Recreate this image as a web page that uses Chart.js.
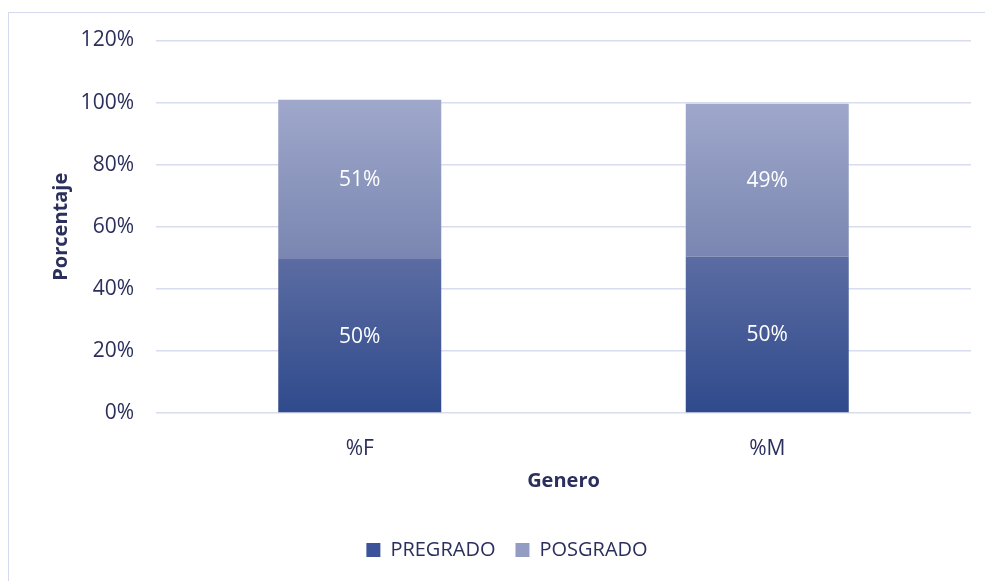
<!DOCTYPE html>
<html>
<head>
<meta charset="utf-8">
<script src="https://cdn.jsdelivr.net/npm/chart.js@4.4.0/dist/chart.umd.min.js"></script>
<style>
  html, body { margin: 0; padding: 0; background: #fff; overflow: hidden; }
  #wrap { position: absolute; left: 8px; top: 12px; width: 997px; height: 575px; border: 1.5px solid #d5d9ee; box-sizing: border-box; }
  #myChart { position: absolute; left: 0; top: 0; }
</style>
</head>
<body>
<div id="wrap"><canvas id="myChart" width="997" height="575"></canvas></div>
<script>
// categorias y series
var generos = ['%F', '%M'];
var pregrado = [49.6, 50.4];
var posgrado = [51.3, 49.2];
var yTicks = [0, 20, 40, 60, 80, 100, 120];

var textColor = '#2b2f5c';
var gridColor = '#d9dcee';
var fuente = "'Open Sans', sans-serif";

// gradiente vertical por segmento (como en Excel)
function gradiente(ctx, top, bottom) {
    var chart = ctx.chart;
    if (!chart.chartArea || !chart.scales.y) return top;
    var i = ctx.dataIndex;
    var base = ctx.datasetIndex === 0 ? 0 : pregrado[i];
    var val = ctx.datasetIndex === 0 ? pregrado[i] : pregrado[i] + posgrado[i];
    var y0 = chart.scales.y.getPixelForValue(val);
    var y1 = chart.scales.y.getPixelForValue(base);
    var g = chart.ctx.createLinearGradient(0, y0, 0, y1);
    g.addColorStop(0, top);
    g.addColorStop(1, bottom);
    return g;
}

// etiquetas blancas dentro de las barras
var etiquetas = {
    id: 'etiquetas',
    afterLayout: function (chart) {
        // la leyenda en el original esta centrada en todo el ancho
        if (chart.legend) { chart.legend.left += 17; chart.legend.right += 17; }
    },
    afterDatasetsDraw: function (chart) {
        var ctx = chart.ctx;
        ctx.save();
        ctx.fillStyle = '#ffffff';
        ctx.font = '21px ' + fuente;
        ctx.textAlign = 'center';
        ctx.textBaseline = 'middle';
        chart.data.datasets.forEach(function (ds, di) {
            chart.getDatasetMeta(di).data.forEach(function (bar, i) {
                var mid = (bar.y + bar.base) / 2;
                ctx.fillText(Math.round(ds.data[i]) + '%', bar.x, mid + 1);
            });
        });
        ctx.restore();
    }
};

new Chart(document.getElementById('myChart'), {
    type: 'bar',
    data: {
        labels: generos,
        datasets: [
            {
                label: 'PREGRADO',
                data: pregrado,
                backgroundColor: function (c) { return gradiente(c, '#5b6ca2', '#2f4a8c'); },
                borderWidth: 0,
                categoryPercentage: 0.8,
                barPercentage: 0.5
            },
            {
                label: 'POSGRADO',
                data: posgrado,
                backgroundColor: function (c) { return gradiente(c, '#9fa8cb', '#7a86b1'); },
                borderWidth: 0,
                categoryPercentage: 0.8,
                barPercentage: 0.5
            }
        ]
    },
    options: {
        responsive: false,
        animation: false,
        layout: { padding: { left: 0, right: 35, top: 27.5, bottom: 18 } },
        scales: {
            x: {
                stacked: true,
                grid: { display: false },
                border: { display: false },
                ticks: { color: textColor, font: { family: fuente, size: 21 }, padding: 15 },
                title: { display: true, text: 'Genero', color: textColor, font: { family: fuente, size: 20, weight: 'bold' }, padding: { top: 0, bottom: 27 } },
                afterFit: function (s) { s.height = 107; }
            },
            y: {
                stacked: true,
                min: 0,
                max: 120,
                afterBuildTicks: function (s) { s.ticks = yTicks.map(function (v) { return { value: v }; }); },
                grid: { color: gridColor, lineWidth: 1.5, drawTicks: false },
                border: { display: false },
                ticks: { color: textColor, font: { family: fuente, size: 21 }, padding: 22, callback: function (v) { return v + '%'; } },
                title: { display: true, text: 'Porcentaje', color: textColor, font: { family: fuente, size: 20, weight: 'bold' }, padding: { top: 40, bottom: 0 } },
                afterFit: function (s) { s.width = 147; s.paddingTop = 0; s.paddingBottom = 0; }
            }
        },
        plugins: {
            legend: {
                position: 'bottom',
                labels: {
                    color: textColor,
                    font: { family: fuente, size: 20 },
                    boxWidth: 14,
                    boxHeight: 14,
                    padding: 20,
                    generateLabels: function (chart) {
                        var cols = ['#3c539a', '#939dc4'];
                        return chart.data.datasets.map(function (ds, i) {
                            return { text: ds.label, fillStyle: cols[i], strokeStyle: cols[i], lineWidth: 0, fontColor: textColor, datasetIndex: i };
                        });
                    }
                }
            },
            tooltip: { enabled: false }
        }
    },
    plugins: [etiquetas]
});
</script>
</body>
</html>
